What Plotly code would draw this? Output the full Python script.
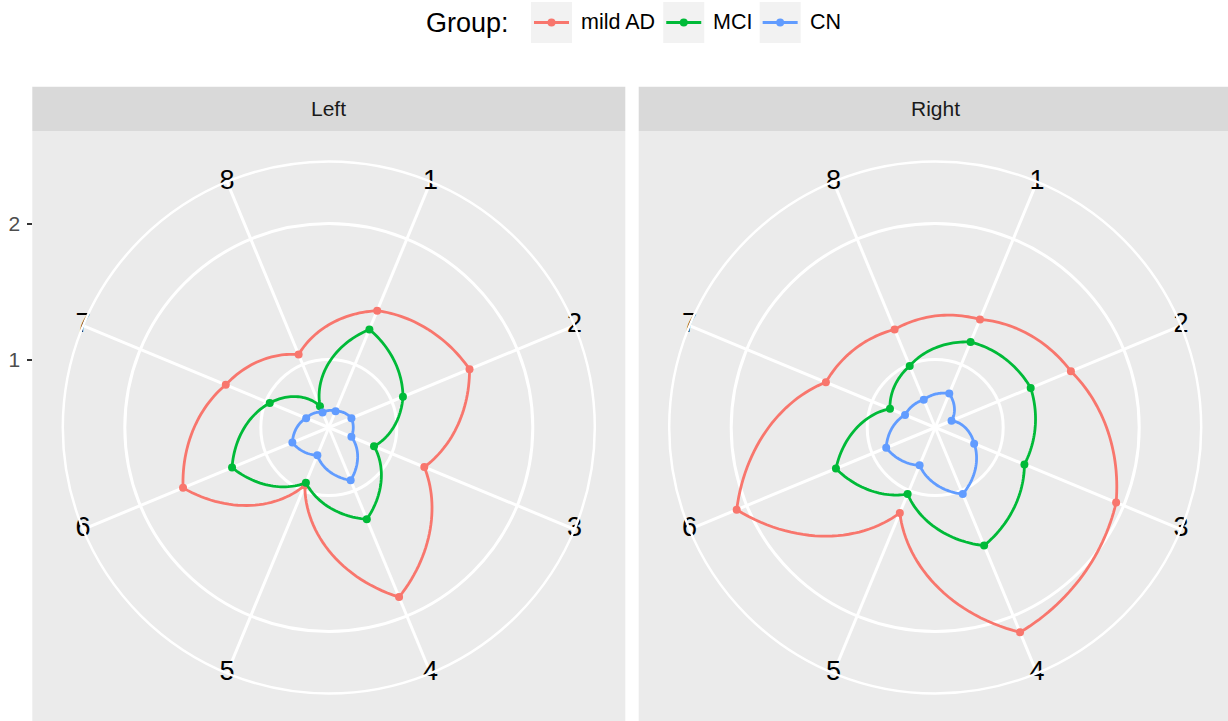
import numpy as np
import plotly.graph_objects as go

# ---------------- data ----------------
categories = ["1", "2", "3", "4", "5", "6", "7", "8"]
groups = ["mild AD", "MCI", "CN"]
facets = ["Left", "Right"]

left_mild_ad = [1.43, 1.62, 1.26, 1.85, 0.96, 1.66, 1.32, 1.08]
left_mci = [1.28, 1.09, 0.86, 1.23, 0.94, 1.27, 0.97, 0.67]
left_cn = [0.63, 0.68, 0.68, 0.92, 0.72, 0.79, 0.68, 0.62]

right_mild_ad = [1.36, 1.58, 1.94, 2.13, 1.18, 2.08, 1.37, 1.28]
right_mci = [1.18, 1.26, 1.21, 1.44, 1.03, 1.29, 0.86, 0.99]
right_cn = [0.77, 0.63, 0.81, 1.03, 0.80, 0.89, 0.74, 0.72]

radial_ticks = [1, 2]

series = {
    "Left": {"mild AD": left_mild_ad, "MCI": left_mci, "CN": left_cn},
    "Right": {"mild AD": right_mild_ad, "MCI": right_mci, "CN": right_cn},
}
colors = {"mild AD": "#F8766D", "MCI": "#00BA38", "CN": "#619CFF"}

# ---------------- layout geometry ----------------
W, H = 1228, 721
PANEL = 593.0
PANEL_X0 = {"Left": 32.3, "Right": 638.7}
PANEL_TOP = 131.0
STRIP_TOP = 86.7
OUTER_PX = 266.0          # radius of outer circle in px
PX_PER_UNIT = 136.0
R_CENTER = 0.5
R_OUTER = R_CENTER + OUTER_PX / PX_PER_UNIT
CY = PANEL_TOP + PANEL / 2

FONT = "Liberation Sans, Arial, sans-serif"
GRID_W = 2.5
LINE_W = 2.8
MARK = 8

n = len(categories)
step = 360.0 / n
cat_theta = [(i + 0.5) * step for i in range(n)]


def munched_path(values, steps=30):
    """Path between observed points, straight in (category, value) space as
    ggplot's coord_polar draws it (r varies linearly with angle)."""
    th, rr = [], []
    for i in range(n):
        a0 = cat_theta[i]
        v0, v1 = values[i], values[(i + 1) % n]
        for s in range(steps):
            f = s / steps
            th.append(a0 + f * step)
            rr.append(v0 + f * (v1 - v0))
    th.append(cat_theta[0] + 360)
    rr.append(values[0])
    return th, rr


fig = go.Figure()

for fi, facet in enumerate(facets):
    sub = "polar" if fi == 0 else "polar2"
    for g in groups:
        vals = series[facet][g]
        th, rr = munched_path(vals)
        fig.add_trace(go.Scatterpolar(
            r=rr, theta=th, mode="lines", subplot=sub, name=g,
            line=dict(color=colors[g], width=LINE_W),
            showlegend=False, hoverinfo="skip", legendgroup=g))
        fig.add_trace(go.Scatterpolar(
            r=vals, theta=cat_theta, mode="markers", subplot=sub,
            marker=dict(color=colors[g], size=MARK),
            showlegend=False, legendgroup=g, name=g))
    # category labels centred on the outer circle, as ggplot does
    fig.add_trace(go.Scatterpolar(
        r=[R_OUTER] * n, theta=cat_theta, mode="text", text=categories,
        textfont=dict(size=27, color="#000000", family=FONT),
        textposition="middle center", cliponaxis=False, subplot=sub,
        showlegend=False, hoverinfo="skip"))

# dummy cartesian trace to carry the left radial axis
fig.add_trace(go.Scatter(x=[None], y=[None], xaxis="x", yaxis="y",
                         showlegend=False, hoverinfo="skip"))

shapes = []
annotations = []
polar_common = dict(
    bgcolor="#EBEBEB",
    angularaxis=dict(
        rotation=90, direction="clockwise", tickmode="array",
        tickvals=cat_theta, ticktext=categories, showticklabels=False,
        ticks="", showgrid=True, gridcolor="#FFFFFF", gridwidth=GRID_W,
        showline=True, linecolor="#FFFFFF", linewidth=GRID_W),
    radialaxis=dict(
        range=[R_CENTER, R_OUTER], tickmode="array", tickvals=radial_ticks,
        showticklabels=False, ticks="", showline=False, showgrid=True,
        gridcolor="#FFFFFF", gridwidth=GRID_W),
)

polars = {}
for fi, facet in enumerate(facets):
    x0 = PANEL_X0[facet]
    cx = x0 + PANEL / 2
    dom_x = [(cx - OUTER_PX) / W, (cx + OUTER_PX) / W]
    dom_y = [1 - (CY + OUTER_PX) / H, 1 - (CY - OUTER_PX) / H]
    polars["polar" if fi == 0 else "polar2"] = dict(domain=dict(x=dom_x, y=dom_y), **polar_common)
    shapes.append(dict(type="rect", xref="paper", yref="paper", layer="below",
                       x0=x0 / W, x1=min(x0 + PANEL, W) / W,
                       y0=0, y1=1 - PANEL_TOP / H,
                       fillcolor="#EBEBEB", line=dict(width=0)))
    shapes.append(dict(type="rect", xref="paper", yref="paper", layer="below",
                       x0=x0 / W, x1=min(x0 + PANEL, W) / W,
                       y0=1 - PANEL_TOP / H, y1=1 - STRIP_TOP / H,
                       fillcolor="#D9D9D9", line=dict(width=0)))
    annotations.append(dict(text=facet, xref="paper", yref="paper",
                            x=cx / W, y=1 - (STRIP_TOP + PANEL_TOP) / 2 / H,
                            showarrow=False, xanchor="center", yanchor="middle",
                            font=dict(size=21, color="#1A1A1A", family=FONT)))

# ---------------- ggplot-style legend (keys on grey boxes) ----------------
LEG_FONT = 21.5
LEG_Y = 22.5            # vertical centre, px from top
KEY = 41.0
KEY_TOP = 2.0
TITLE_RIGHT = 511.0
KEY_START = 531.0
ARIAL_W = {"m": .833, "i": .222, "l": .222, "d": .556, " ": .278, "A": .667,
           "D": .722, "M": .833, "C": .722, "I": .278, "N": .722}

annotations.append(dict(text="Group:", xref="paper", yref="paper",
                        x=TITLE_RIGHT / W, y=1 - (LEG_Y + 0.8) / H,
                        xanchor="right", yanchor="middle", showarrow=False,
                        font=dict(size=27, color="#000000", family=FONT)))
kx = KEY_START
for g in groups:
    shapes.append(dict(type="rect", xref="paper", yref="paper", layer="below",
                       x0=kx / W, x1=(kx + KEY) / W,
                       y0=1 - (KEY_TOP + KEY) / H, y1=1 - KEY_TOP / H,
                       fillcolor="#F2F2F2", line=dict(width=0)))
    shapes.append(dict(type="line", xref="paper", yref="paper", layer="above",
                       x0=(kx + 3) / W, x1=(kx + KEY - 3) / W,
                       y0=1 - LEG_Y / H, y1=1 - LEG_Y / H,
                       line=dict(color=colors[g], width=LINE_W)))
    shapes.append(dict(type="circle", xref="paper", yref="paper", layer="above",
                       x0=(kx + KEY / 2 - MARK / 2) / W, x1=(kx + KEY / 2 + MARK / 2) / W,
                       y0=1 - (LEG_Y + MARK / 2) / H, y1=1 - (LEG_Y - MARK / 2) / H,
                       fillcolor=colors[g], line=dict(width=0)))
    annotations.append(dict(text=g, xref="paper", yref="paper",
                            x=(kx + KEY + 7) / W, y=1 - LEG_Y / H,
                            xanchor="left", yanchor="middle", showarrow=False,
                            font=dict(size=LEG_FONT, color="#000000", family=FONT)))
    tw = sum(ARIAL_W.get(c, 0.6) for c in g) * LEG_FONT
    kx = kx + KEY + 8 + tw + 8

dom_y_left = [1 - (CY + OUTER_PX) / H, 1 - (CY - OUTER_PX) / H]
span = OUTER_PX / PX_PER_UNIT

fig.update_layout(
    width=W, height=H,
    margin=dict(l=0, r=0, t=0, b=0),
    paper_bgcolor="#FFFFFF", plot_bgcolor="rgba(0,0,0,0)",
    font=dict(family=FONT, color="#000000"),
    shapes=shapes, annotations=annotations, showlegend=False,
    xaxis=dict(domain=[0, 0.02], visible=False, fixedrange=True),
    yaxis=dict(domain=dom_y_left, range=[R_CENTER - span, R_CENTER + span],
               anchor="free", position=PANEL_X0["Left"] / W, side="left",
               tickmode="array", tickvals=radial_ticks,
               ticktext=[str(t) for t in radial_ticks],
               ticks="outside", ticklen=5, tickwidth=2.2, tickcolor="#333333",
               ticklabelstandoff=3,
               tickfont=dict(size=21, color="#4D4D4D", family=FONT),
               showgrid=False, zeroline=False, showline=False, fixedrange=True),
    **polars,
)

fig.write_html("out.html", config={"displayModeBar": False},
               post_script="document.body.style.margin='0';")
